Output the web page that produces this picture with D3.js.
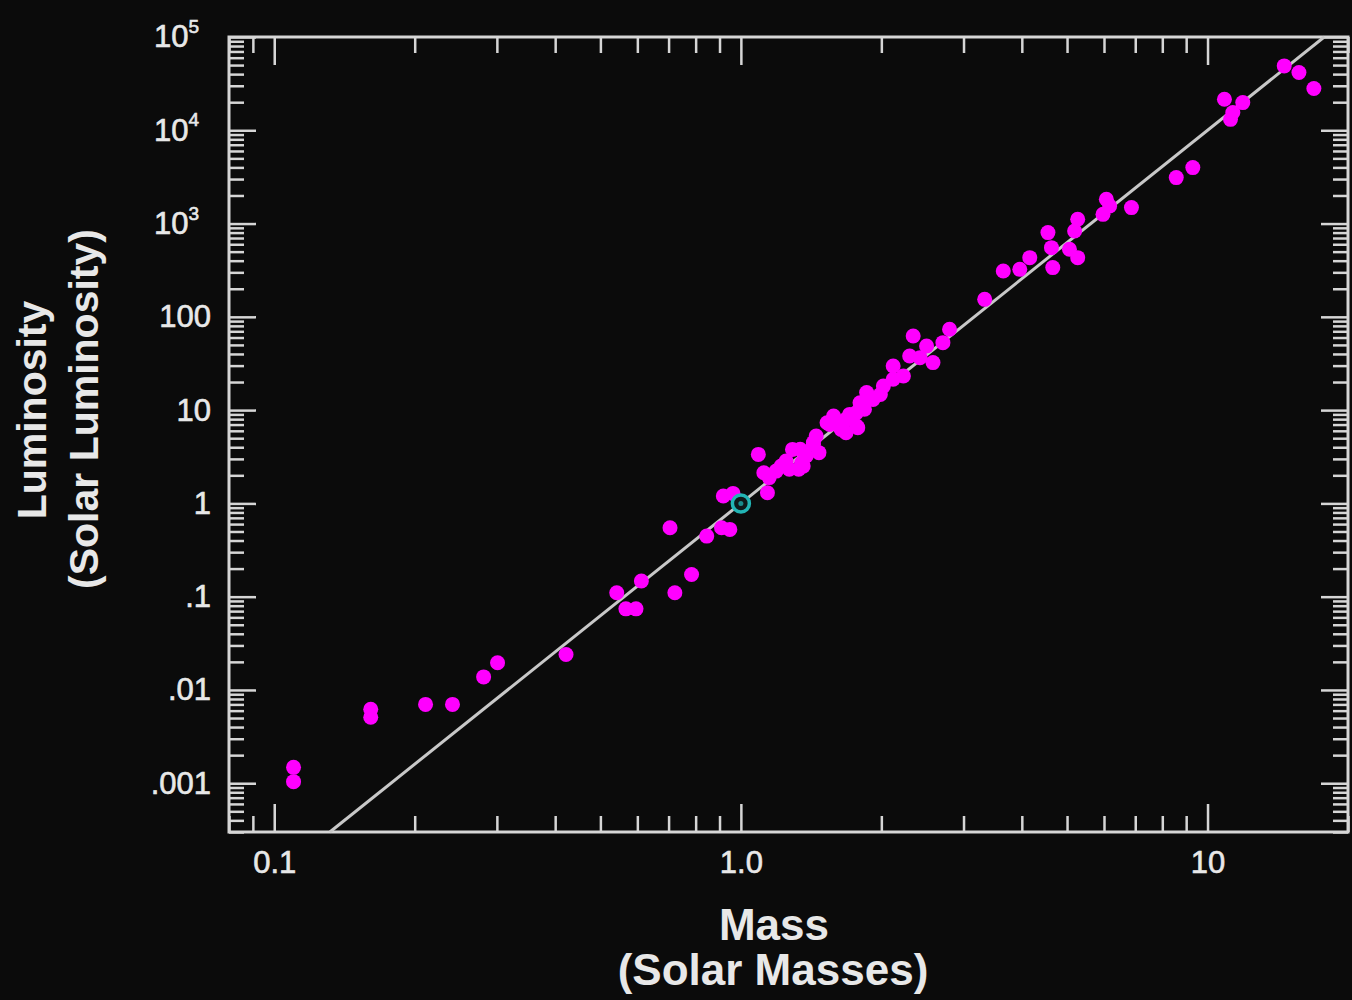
<!DOCTYPE html>
<html>
<head>
<meta charset="utf-8">
<script src="https://cdn.jsdelivr.net/npm/d3@7"></script>
<style>
  html, body { margin: 0; padding: 0; background: #0b0b0b; }
  svg { display: block; }
</style>
</head>
<body>
<svg id="drawing_region"></svg>
<script>
// mass (solar masses) and luminosity (solar luminosity) of each star
const masses = [
    0.110, 0.110, 0.161, 0.161, 0.211, 0.241, 0.281, 0.301, 0.422,
    0.542, 0.567, 0.596, 0.612, 0.722, 0.784, 0.705, 0.845, 0.909, 0.947,
    0.917, 0.962, 1.09, 1.14, 1.12, 1.15, 1.19, 1.25, 1.29, 1.33, 1.38,
    1.43, 1.47, 1.35, 1.27, 1.55, 1.63, 1.77, 1.68, 3.33, 2.80, 2.34,
    2.50, 2.58, 2.30, 2.12, 2.23, 2.42, 2.71, 2.02, 1.86, 1.80, 1.92,
    1.77, 1.58, 1.53, 1.68, 1.78, 1.64, 1.34, 1.43, 1.45, 1.36, 1.22,
    1.71, 1.84, 1.99, 2.12,
    3.65, 3.96, 4.16, 4.55, 4.63, 4.66, 5.06, 5.27, 5.27, 5.19, 6.07,
    6.17, 5.97, 6.87, 8.57, 9.30, 10.87, 11.33, 11.9, 11.2, 14.6, 15.7, 16.9
];
const luminosities = [
    0.00148, 0.00104, 0.0062, 0.0051, 0.0070, 0.0070, 0.0138, 0.0196, 0.024,
    0.110, 0.074, 0.074, 0.147, 0.110, 0.173, 0.548, 0.446, 0.548, 0.526,
    1.20, 1.28, 3.35, 1.30, 2.13, 1.89, 2.22, 2.84, 3.79, 2.32, 3.22,
    4.29, 3.50, 2.73, 2.32, 7.03, 7.34, 6.75, 5.73, 154, 73.5, 62.3,
    48.7, 32.3, 38.0, 29.7, 23.2, 36.5, 52.9, 18.1, 15.4, 12.0, 13.0,
    9.4, 8.63, 7.33, 7.96, 6.49, 6.22, 3.80, 4.48, 5.27, 2.51, 2.51,
    9.0, 10.2, 14.7, 21.4,
    310, 323, 431, 800, 552, 337, 530, 431, 1111, 832, 1820,
    1541, 1256, 1483, 3110, 3982, 21500, 15500, 19800, 13100, 49000, 41600, 28000
];
const sun = {mass: 1, luminosity: 1};
const fitExponent = 4;   // L = M^4

const xTickValues = [0.1, 1, 10];
const xTickLabels = ['0.1', '1.0', '10'];
const yTickValues = [1e-3, 1e-2, 1e-1, 1, 10, 100, 1e3, 1e4, 1e5];
const yTickLabels = ['.001', '.01', '.1', '1', '10', '100', '10^3', '10^4', '10^5'];

const xDomain = [0.08, 20];
const yDomain = [3e-4, 1e5];

const config = {
    width: 1352,
    height: 1000,
    left: 229, right: 1348, top: 37, bottom: 832,
    axisColor: '#d6d6d6',
    textColor: '#e8e8e8'
};

const data = masses.map((m, i) => ({mass: m, luminosity: luminosities[i]}));

const svg = d3.select('#drawing_region')
    .attr('width', config.width)
    .attr('height', config.height)
    .style('background', '#0b0b0b');

const xscale = d3.scaleLog().domain(xDomain).range([config.left, config.right]);
const yscale = d3.scaleLog().domain(yDomain).range([config.bottom, config.top]);

const xMinor = xscale.ticks(30).filter(d => !xTickValues.includes(d));
const yMinor = yscale.ticks(80).filter(d => !yTickValues.some(v => Math.abs(v - d) / v < 1e-9));

function styleAxis(g){
    g.select('.domain').remove();
    g.selectAll('line').attr('stroke', config.axisColor).attr('stroke-width', 2.5);
    g.selectAll('text')
        .attr('fill', config.textColor)
        .attr('stroke', config.textColor)
        .attr('stroke-width', 0.6)
        .attr('font-family', 'Liberation Sans, Arial, sans-serif')
        .attr('font-size', 31);
}

// bottom
svg.append('g').attr('transform', `translate(0, ${config.bottom})`)
    .call(d3.axisBottom(xscale).tickValues(xTickValues).tickSize(-28).tickPadding(19)
        .tickFormat((d, i) => xTickLabels[i]))
    .call(styleAxis);
svg.append('g').attr('transform', `translate(0, ${config.bottom})`)
    .call(d3.axisBottom(xscale).tickValues(xMinor).tickSize(-16).tickFormat(''))
    .call(styleAxis);
// top
svg.append('g').attr('transform', `translate(0, ${config.top})`)
    .call(d3.axisTop(xscale).tickValues(xTickValues).tickSize(-28).tickFormat(''))
    .call(styleAxis);
svg.append('g').attr('transform', `translate(0, ${config.top})`)
    .call(d3.axisTop(xscale).tickValues(xMinor).tickSize(-16).tickFormat(''))
    .call(styleAxis);
// left
const yaxis_group = svg.append('g').attr('transform', `translate(${config.left}, 0)`)
    .call(d3.axisLeft(yscale).tickValues(yTickValues).tickSize(-27).tickPadding(18)
        .tickFormat((d, i) => yTickLabels[i]))
    .call(styleAxis);
svg.append('g').attr('transform', `translate(${config.left}, 0)`)
    .call(d3.axisLeft(yscale).tickValues(yMinor).tickSize(-15).tickFormat(''))
    .call(styleAxis);
// right
svg.append('g').attr('transform', `translate(${config.right}, 0)`)
    .call(d3.axisRight(yscale).tickValues(yTickValues).tickSize(-27).tickFormat(''))
    .call(styleAxis);
svg.append('g').attr('transform', `translate(${config.right}, 0)`)
    .call(d3.axisRight(yscale).tickValues(yMinor).tickSize(-15).tickFormat(''))
    .call(styleAxis);

// superscript labels like 10^5
yaxis_group.selectAll('.tick text').each(function(){
    const t = d3.select(this);
    const s = t.text();
    if (s.includes('^')){
        const [base, exp] = s.split('^');
        t.text(base).attr('dx', -12);
        t.append('tspan').text(exp).attr('font-size', 19).attr('dy', '-0.75em');
    }
});

// frame
svg.append('rect')
    .attr('x', config.left).attr('y', config.top)
    .attr('width', config.right - config.left)
    .attr('height', config.bottom - config.top)
    .attr('fill', 'none')
    .attr('stroke', config.axisColor)
    .attr('stroke-width', 3);

// L = M^4 relation, between the y limits
const fitLine = [yDomain[0], yDomain[1]].map(L => ({mass: Math.pow(L, 1 / fitExponent), luminosity: L}));
svg.append('path')
    .datum(fitLine)
    .attr('d', d3.line().x(d => xscale(d.mass)).y(d => yscale(d.luminosity)))
    .attr('stroke', '#c8c8c8')
    .attr('stroke-width', 3)
    .attr('fill', 'none');

svg.append('g').selectAll('circle')
    .data(data)
    .join('circle')
    .attr('cx', d => xscale(d.mass))
    .attr('cy', d => yscale(d.luminosity))
    .attr('r', 7.5)
    .attr('fill', '#ff00ff');

// the Sun
svg.append('circle')
    .attr('cx', xscale(sun.mass)).attr('cy', yscale(sun.luminosity))
    .attr('r', 8.5)
    .attr('fill', '#0d1a1a')
    .attr('stroke', '#22b5b5')
    .attr('stroke-width', 3.5);
svg.append('circle')
    .attr('cx', xscale(sun.mass)).attr('cy', yscale(sun.luminosity))
    .attr('r', 2.5)
    .attr('fill', '#1a8c8c');

// titles
const titleFont = 'Liberation Sans, Arial, sans-serif';
svg.append('text').attr('x', 774).attr('y', 940)
    .attr('text-anchor', 'middle').attr('font-family', titleFont)
    .attr('font-size', 44).attr('font-weight', 'bold').attr('fill', config.textColor)
    .text('Mass');
svg.append('text').attr('x', 773).attr('y', 985)
    .attr('text-anchor', 'middle').attr('font-family', titleFont)
    .attr('font-size', 44).attr('font-weight', 'bold').attr('fill', config.textColor)
    .text('(Solar Masses)');
svg.append('text').attr('transform', 'translate(46, 410) rotate(-90)')
    .attr('text-anchor', 'middle').attr('font-family', titleFont)
    .attr('font-size', 41).attr('font-weight', 'bold').attr('fill', config.textColor)
    .text('Luminosity');
svg.append('text').attr('transform', 'translate(98, 409) rotate(-90)')
    .attr('text-anchor', 'middle').attr('font-family', titleFont)
    .attr('font-size', 41).attr('font-weight', 'bold').attr('fill', config.textColor)
    .text('(Solar Luminosity)');
</script>
</body>
</html>
